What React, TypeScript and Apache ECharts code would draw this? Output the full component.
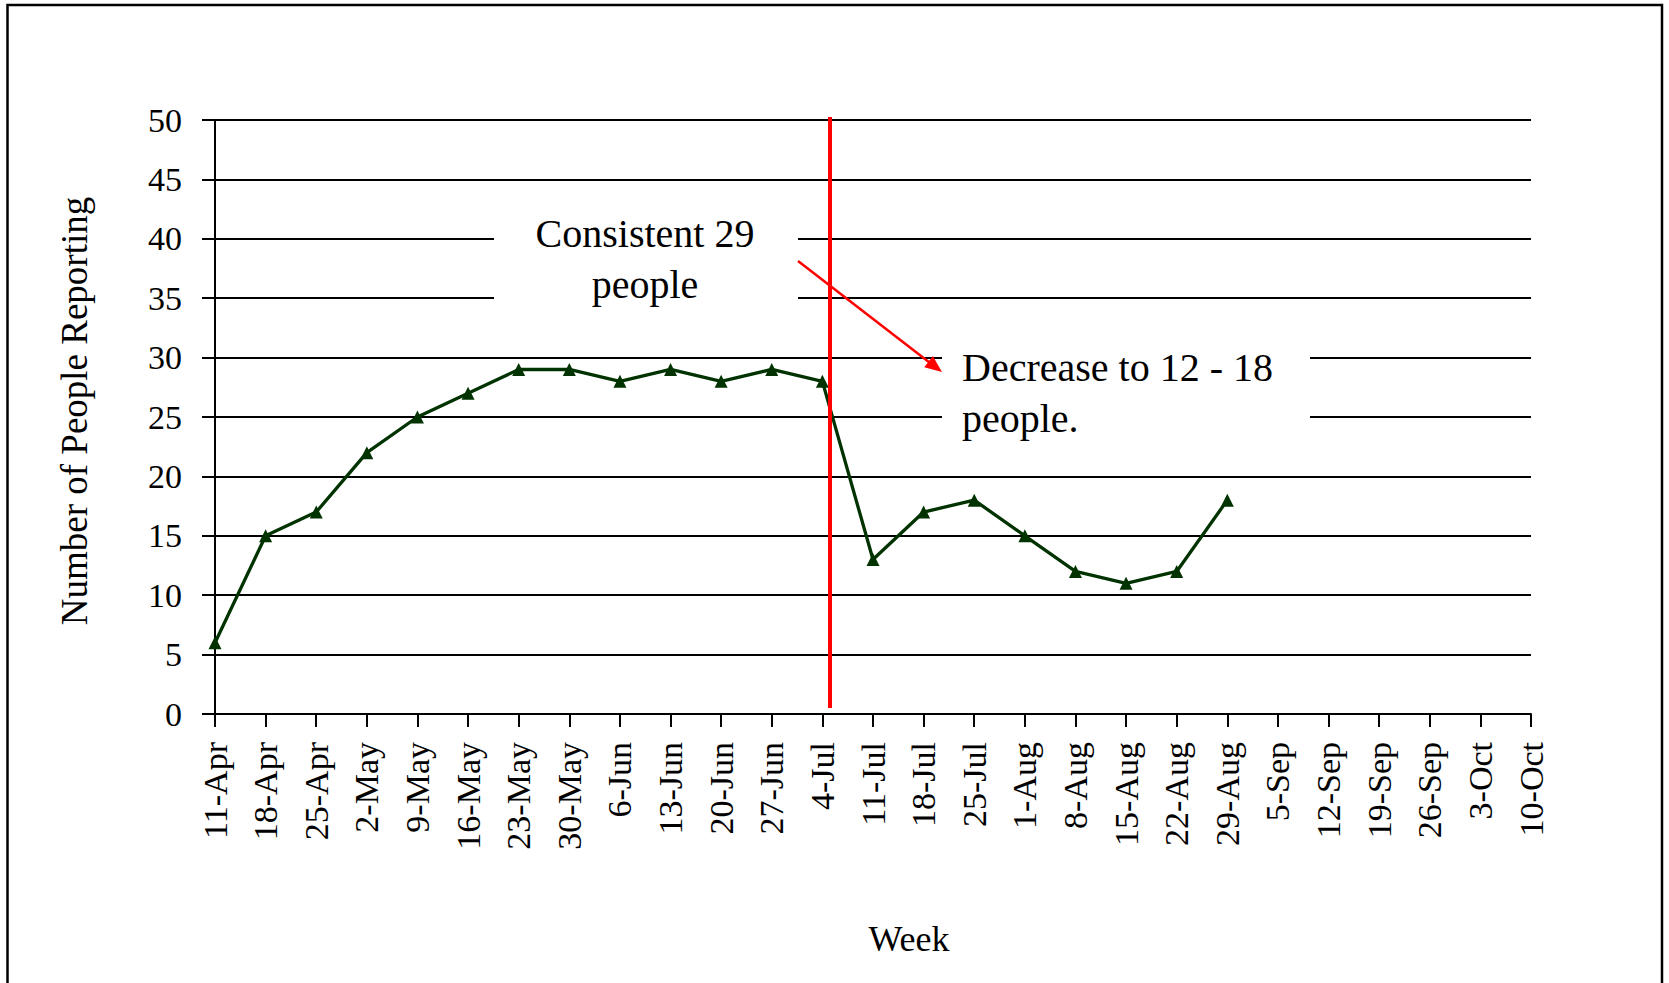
import React, { useEffect, useRef } from "react";
import * as echarts from "echarts";

const weeks = [
  "11-Apr", "18-Apr", "25-Apr", "2-May", "9-May", "16-May", "23-May", "30-May",
  "6-Jun", "13-Jun", "20-Jun", "27-Jun", "4-Jul", "11-Jul", "18-Jul", "25-Jul",
  "1-Aug", "8-Aug", "15-Aug", "22-Aug", "29-Aug", "5-Sep", "12-Sep", "19-Sep",
  "26-Sep", "3-Oct", "10-Oct",
];
const peopleReporting = [
  6, 15, 17, 22, 25, 27, 29, 29, 28, 29, 28, 29, 28, 13, 17, 18, 15, 12, 11, 12, 18,
];
const yMin = 0;
const yMax = 50;
const yStep = 5;

const annotationTop = "Consistent 29\npeople";
const annotationRight = "Decrease to 12 - 18\npeople.";
const xTitle = "Week";
const yTitle = "Number of People Reporting";

const FONT = "'Liberation Serif', 'Times New Roman', serif";

function arrowHead(x1: number, y1: number, x2: number, y2: number, len: number, half: number) {
  const dx = x2 - x1;
  const dy = y2 - y1;
  const d = Math.sqrt(dx * dx + dy * dy);
  const ux = dx / d;
  const uy = dy / d;
  const bx = x2 - ux * len;
  const by = y2 - uy * len;
  return [
    [x2, y2],
    [bx - uy * half, by + ux * half],
    [bx + uy * half, by - ux * half],
  ];
}

export default function App() {
  const ref = useRef<HTMLDivElement>(null);

  useEffect(() => {
    if (!ref.current) return;
    const chart = echarts.init(ref.current, undefined, { renderer: "svg" });

    const aStart = [798, 261];
    const aEnd = [942, 372];
    const head = arrowHead(aStart[0], aStart[1], aEnd[0], aEnd[1], 17, 7);

    chart.setOption({
      animation: false,
      backgroundColor: "#ffffff",
      grid: { left: 215, right: 138, top: 120, bottom: 269, containLabel: false },
      xAxis: {
        type: "category",
        data: weeks,
        boundaryGap: false,
        axisLine: { show: true, lineStyle: { color: "#000", width: 2 } },
        axisTick: { show: true, length: 13, inside: false, interval: 0, lineStyle: { color: "#000", width: 2 } },
        axisLabel: {
          interval: 0,
          rotate: 90,
          margin: 28,
          color: "#000",
          fontFamily: FONT,
          fontSize: 34,
        },
        splitLine: { show: false },
      },
      yAxis: {
        type: "value",
        min: yMin,
        max: yMax,
        interval: yStep,
        axisLine: { show: true, lineStyle: { color: "#000", width: 2 } },
        axisTick: { show: true, length: 13, inside: false, lineStyle: { color: "#000", width: 2 } },
        axisLabel: { margin: 33, color: "#000", fontFamily: FONT, fontSize: 34 },
        splitLine: { show: true, lineStyle: { color: "#000", width: 2 } },
      },
      series: [
        {
          type: "line",
          data: peopleReporting,
          symbol: "triangle",
          symbolSize: 13,
          showSymbol: true,
          color: "#003300",
          itemStyle: { color: "#003300" },
          lineStyle: { color: "#003300", width: 3.3 },
          z: 3,
        },
      ],
      graphic: [
        {
          type: "rect",
          shape: { x: 7.5, y: 5, width: 1654.5, height: 1100 },
          style: { fill: "none", stroke: "#000", lineWidth: 2.5 },
          z: 1,
          silent: true,
        },
        {
          type: "rect",
          shape: { x: 494, y: 200, width: 304, height: 140 },
          style: { fill: "#ffffff" },
          z: 10,
        },
        {
          type: "text",
          x: 645,
          y: 259,
          style: {
            text: annotationTop,
            fill: "#000",
            font: `40px ${FONT}`,
            align: "center",
            verticalAlign: "middle",
            lineHeight: 51,
          },
          z: 11,
        },
        {
          type: "rect",
          shape: { x: 942, y: 322, width: 368, height: 128 },
          style: { fill: "#ffffff" },
          z: 10,
        },
        {
          type: "text",
          x: 962,
          y: 393,
          style: {
            text: annotationRight,
            fill: "#000",
            font: `40px ${FONT}`,
            align: "left",
            verticalAlign: "middle",
            lineHeight: 51,
          },
          z: 11,
        },
        {
          type: "line",
          shape: { x1: 830, y1: 117, x2: 830, y2: 708 },
          style: { stroke: "#ff0000", lineWidth: 4 },
          z: 12,
        },
        {
          type: "line",
          shape: { x1: aStart[0], y1: aStart[1], x2: aEnd[0] - 8, y2: aEnd[1] - 6 },
          style: { stroke: "#ff0000", lineWidth: 2.5 },
          z: 12,
        },
        {
          type: "polygon",
          shape: { points: head },
          style: { fill: "#ff0000" },
          z: 12,
        },
        {
          type: "text",
          x: 909,
          y: 939,
          style: {
            text: xTitle,
            fill: "#000",
            font: `36px ${FONT}`,
            align: "center",
            verticalAlign: "middle",
          },
          z: 11,
        },
        {
          type: "text",
          x: 74,
          y: 411,
          rotation: Math.PI / 2,
          style: {
            text: yTitle,
            fill: "#000",
            font: `37px ${FONT}`,
            align: "center",
            verticalAlign: "middle",
          },
          z: 11,
        },
      ],
    });

    return () => {
      chart.dispose();
    };
  }, []);

  return (
    <div
      ref={ref}
      style={{ position: "absolute", left: 0, top: 0, width: 1669, height: 983, background: "#fff" }}
    />
  );
}
